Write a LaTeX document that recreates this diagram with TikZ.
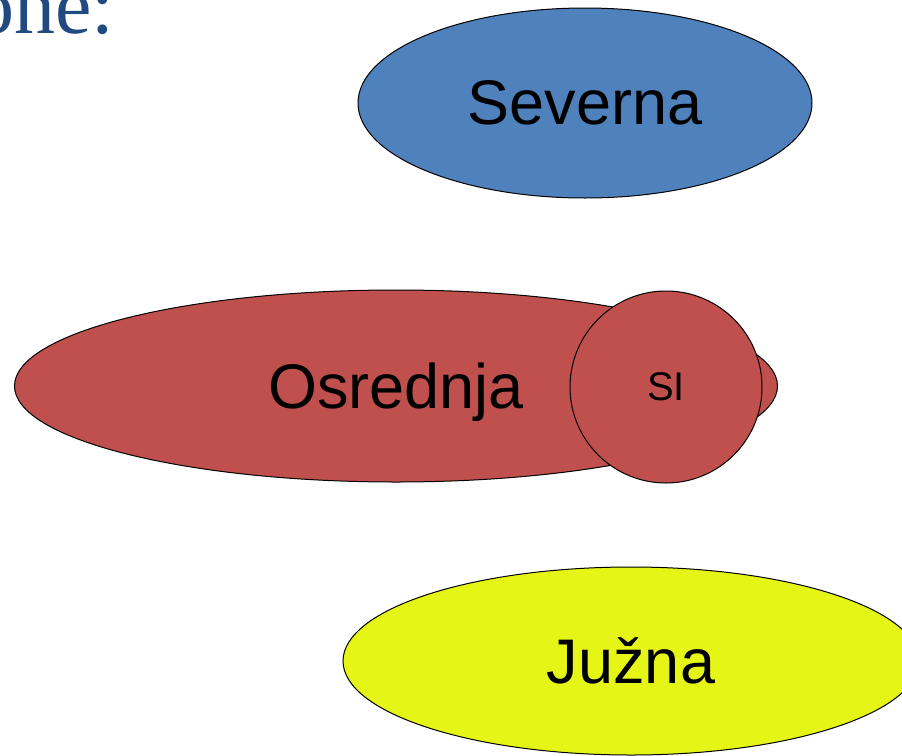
\documentclass[tikz,border=0pt]{standalone}
\usepackage{fontspec}
\setmainfont{Liberation Sans}
\newfontfamily\naslovfont{Liberation Serif}
\usetikzlibrary{shapes.geometric,positioning}
\definecolor{plava}{RGB}{79,129,189}
\definecolor{crvena}{RGB}{192,80,77}
\definecolor{zuta}{RGB}{229,246,22}
\definecolor{tamnoplava}{RGB}{33,74,128}

\begin{document}
\begin{tikzpicture}[x=1pt,y=-1pt,
  zona/.style={ellipse,draw=black,line width=1pt,inner sep=0pt,text depth=0pt,
    font=\fontsize{63}{70}\selectfont},
  grad/.style={circle,draw=black,line width=1pt,inner sep=0pt,text depth=0pt,
    minimum size=192,fill=crvena,font=\fontsize{40}{46}\selectfont}]

\useasboundingbox (0,0) rectangle (902,755);

\node[anchor=base west,inner sep=0pt,text=tamnoplava,
  font=\naslovfont\fontsize{82}{90}\selectfont] (naslov) at (-27,33) {one:};

\node[zona,fill=plava,minimum width=454,minimum height=190]   (severna)  at (585,103) {Severna};
\node[zona,fill=crvena,minimum width=763,minimum height=192]  (osrednja) at (396,386) {Osrednja};
\node[grad]                                                    (si)       at (666,387) {SI};
\node[zona,fill=zuta,minimum width=576,minimum height=188]    (juzna)    at (631,661) {Južna};

\end{tikzpicture}
\end{document}
